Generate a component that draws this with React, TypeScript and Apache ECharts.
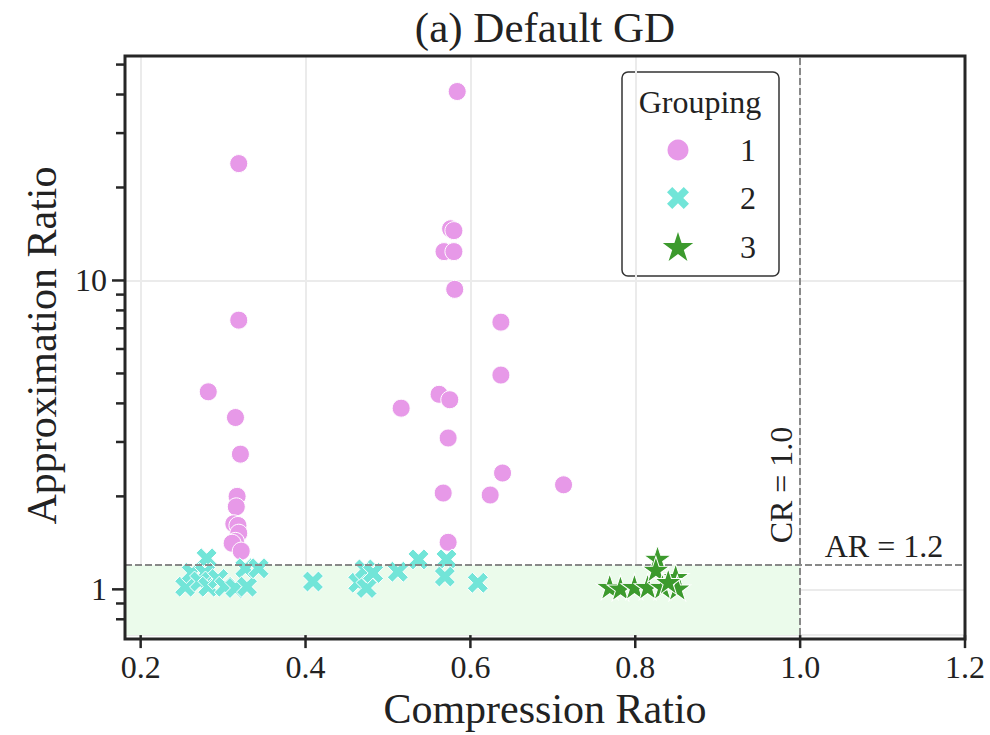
import { useEffect, useRef } from 'react';
import * as echarts from 'echarts';

// Grouping 1 (circles)
const g1X = [0.584, 0.319, 0.576, 0.58, 0.568, 0.58, 0.581, 0.319, 0.637, 0.637, 0.282, 0.562, 0.575, 0.516, 0.315, 0.573, 0.321, 0.639, 0.713, 0.567, 0.624, 0.317, 0.316, 0.313, 0.318, 0.319, 0.315, 0.311, 0.573, 0.322];
const g1Y = [40.9, 23.9, 14.7, 14.5, 12.4, 12.4, 9.36, 7.44, 7.33, 4.94, 4.36, 4.28, 4.11, 3.86, 3.6, 3.09, 2.74, 2.38, 2.18, 2.05, 2.02, 2.0, 1.85, 1.63, 1.61, 1.52, 1.43, 1.41, 1.42, 1.33];

// Grouping 2 (crosses)
const g2X = [0.254, 0.262, 0.28, 0.278, 0.272, 0.282, 0.294, 0.302, 0.315, 0.327, 0.329, 0.343, 0.409, 0.464, 0.474, 0.472, 0.482, 0.512, 0.537, 0.571, 0.569, 0.609];
const g2Y = [1.02, 1.13, 1.26, 1.13, 1.06, 1.02, 1.08, 1.02, 1.01, 1.17, 1.02, 1.17, 1.06, 1.05, 1.01, 1.16, 1.13, 1.14, 1.25, 1.25, 1.1, 1.05];

// Grouping 3 (stars)
const g3X = [0.827, 0.769, 0.782, 0.799, 0.815, 0.825, 0.833, 0.849, 0.851, 0.84];
const g3Y = [1.26, 1.02, 1.01, 1.02, 1.02, 1.16, 1.02, 1.1, 1.01, 1.06];

const groupNames = ['1', '2', '3'];

// Axis ticks
const xTickValues = [0.2, 0.4, 0.6, 0.8, 1.0, 1.2];
const yMajorValues = [1, 10];
const yMinorValues = [0.8, 0.9, 2, 3, 4, 5, 6, 7, 8, 9, 20, 30, 40, 50];

// Thresholds
const crThreshold = 1.0;
const arThreshold = 1.2;

const X_MIN = 0.181;
const X_MAX = 1.2;
const Y_MIN = 0.711;
const Y_MAX = 53.3;

const GRID_LEFT = 125;
const GRID_RIGHT = 25;
const GRID_TOP = 56;
const GRID_BOTTOM = 96;
const WIDTH = 990;
const HEIGHT = 735;

const FONT = '"Liberation Serif", "DejaVu Serif", serif';
const TEXT = '#222222';
const FRAME = '#262626';
const PINK = '#e799e8';
const TURQ = '#72e5d8';
const GREEN = '#3c9a2d';
const BAND = '#ebfbeb';
const GRID_LINE = '#ebebeb';

// Filled "X" marker outline in a 10x10 box
const CROSS_PTS: number[][] = [
  [0, 2.4], [2.4, 0], [5, 2.6], [7.6, 0], [10, 2.4], [7.4, 5],
  [10, 7.6], [7.6, 10], [5, 7.4], [2.4, 10], [0, 7.6], [2.6, 5],
];
const CROSS_PATH = 'path://M' + CROSS_PTS.map((p) => p.join(',')).join(' L') + ' Z';

function starPoints(cx: number, cy: number, r: number): number[][] {
  const pts: number[][] = [];
  for (let i = 0; i < 10; i++) {
    const ang = -Math.PI / 2 + (i * Math.PI) / 5;
    const rr = i % 2 === 0 ? r : r * 0.381;
    pts.push([cx + rr * Math.cos(ang), cy + rr * Math.sin(ang)]);
  }
  return pts;
}
const STAR_PATH =
  'path://M' + starPoints(0, 0, 10).map((p) => p[0].toFixed(3) + ',' + p[1].toFixed(3)).join(' L') + ' Z';

function crossPoints(cx: number, cy: number, size: number): number[][] {
  return CROSS_PTS.map((p) => [cx + ((p[0] - 5) * size) / 10, cy + ((p[1] - 5) * size) / 10]);
}

export default function App() {
  const ref = useRef<HTMLDivElement>(null);

  useEffect(() => {
    if (!ref.current) return;
    const chart = echarts.init(ref.current, null, { renderer: 'svg' });

    const tickData = [
      ...xTickValues.map((v) => [v, Y_MIN, 0]),
      ...yMajorValues.map((v) => [X_MIN, v, 1]),
      ...yMinorValues.map((v) => [X_MIN, v, 2]),
    ];

    const legendX = 678;
    const legendLabelX = 748;
    const legendRows = [150, 198, 247];

    chart.setOption({
      animation: false,
      backgroundColor: '#ffffff',
      title: {
        text: '(a) Default GD',
        left: 545,
        top: 6,
        padding: 0,
        textAlign: 'center',
        textStyle: { fontFamily: FONT, fontSize: 43, fontWeight: 'normal', color: TEXT },
      },
      grid: {
        left: GRID_LEFT,
        right: GRID_RIGHT,
        top: GRID_TOP,
        bottom: GRID_BOTTOM,
        show: false,
      },
      xAxis: {
        type: 'value',
        min: X_MIN,
        max: X_MAX,
        name: 'Compression Ratio',
        nameLocation: 'middle',
        nameGap: 52,
        nameTextStyle: { fontFamily: FONT, fontSize: 42, color: TEXT },
        axisLine: { show: false },
        axisTick: { show: false },
        axisLabel: {
          margin: 16,
          fontFamily: FONT,
          fontSize: 32,
          color: TEXT,
          formatter: (v: number) => (Math.abs(v * 5 - Math.round(v * 5)) < 1e-6 ? v.toFixed(1) : ''),
        },
        splitLine: { show: true, lineStyle: { color: GRID_LINE, width: 2 } },
      },
      yAxis: {
        type: 'log',
        logBase: 10,
        min: Y_MIN,
        max: Y_MAX,
        name: 'Approximation Ratio',
        nameLocation: 'middle',
        nameGap: 62,
        nameTextStyle: { fontFamily: FONT, fontSize: 42, color: TEXT },
        axisLine: { show: false },
        axisTick: { show: false },
        axisLabel: {
          margin: 18,
          fontFamily: FONT,
          fontSize: 32,
          color: TEXT,
          formatter: (v: number) => (Math.abs(v - 1) < 1e-9 ? '1' : Math.abs(v - 10) < 1e-9 ? '10' : ''),
        },
        splitLine: { show: true, lineStyle: { color: GRID_LINE, width: 2 } },
        minorTick: { show: false },
      },
      series: [
        {
          type: 'scatter',
          name: 'thresholds',
          data: [],
          z: 1,
          silent: true,
          markArea: {
            silent: true,
            itemStyle: { color: BAND },
            data: [[{ coord: [X_MIN, Y_MIN] }, { coord: [crThreshold, arThreshold] }]],
          },
          markLine: {
            silent: true,
            symbol: 'none',
            label: { show: false },
            lineStyle: { color: '#888888', type: [7, 3], width: 2 },
            data: [{ xAxis: crThreshold }, { yAxis: arThreshold }],
          },
        },
        {
          type: 'scatter',
          name: groupNames[0],
          z: 3,
          symbol: 'circle',
          symbolSize: 18,
          itemStyle: { color: PINK, borderColor: '#ffffff', borderWidth: 1, opacity: 1 },
          data: g1X.map((x, i) => [x, g1Y[i]]),
        },
        {
          type: 'scatter',
          name: groupNames[1],
          z: 4,
          symbol: CROSS_PATH,
          symbolSize: 21,
          itemStyle: { color: TURQ, borderColor: '#ffffff', borderWidth: 1, opacity: 1 },
          data: g2X.map((x, i) => [x, g2Y[i]]),
        },
        {
          type: 'scatter',
          name: groupNames[2],
          z: 5,
          symbol: STAR_PATH,
          symbolSize: [27, 26],
          itemStyle: { color: GREEN, borderColor: '#ffffff', borderWidth: 1, opacity: 1 },
          data: g3X.map((x, i) => [x, g3Y[i]]),
        },
        {
          type: 'custom',
          name: 'ticks',
          coordinateSystem: 'cartesian2d',
          silent: true,
          clip: false,
          z: 10,
          data: tickData,
          renderItem: (_params: any, api: any) => {
            const kind = api.value(2);
            const p = api.coord([api.value(0), api.value(1)]);
            const len = kind === 2 ? 9 : 13;
            const shape =
              kind === 0
                ? { x1: p[0], y1: p[1], x2: p[0], y2: p[1] + len }
                : { x1: p[0] - len, y1: p[1], x2: p[0], y2: p[1] };
            return { type: 'line', shape, style: { stroke: FRAME, lineWidth: 2.5 } };
          },
        },
      ],
      graphic: [
        // plot frame
        {
          type: 'rect',
          z: 15,
          silent: true,
          shape: {
            x: GRID_LEFT,
            y: GRID_TOP,
            width: WIDTH - GRID_LEFT - GRID_RIGHT,
            height: HEIGHT - GRID_TOP - GRID_BOTTOM,
          },
          style: { fill: 'none', stroke: FRAME, lineWidth: 3 },
        },
        {
          type: 'text',
          x: 781,
          y: 485,
          rotation: Math.PI / 2,
          z: 20,
          style: {
            text: 'CR = 1.0',
            fontFamily: FONT,
            fontSize: 32,
            fill: TEXT,
            textAlign: 'center',
            textVerticalAlign: 'middle',
          },
        },
        {
          type: 'text',
          x: 884,
          y: 546,
          z: 20,
          style: {
            text: 'AR = 1.2',
            fontFamily: FONT,
            fontSize: 32,
            fill: TEXT,
            textAlign: 'center',
            textVerticalAlign: 'middle',
          },
        },
        {
          type: 'group',
          z: 30,
          children: [
            {
              type: 'rect',
              shape: { x: 622, y: 72, width: 157, height: 204, r: 6 },
              style: { fill: '#ffffff', stroke: '#333333', lineWidth: 1.5 },
            },
            {
              type: 'text',
              x: 700,
              y: 102,
              style: {
                text: 'Grouping',
                fontFamily: FONT,
                fontSize: 32,
                fill: TEXT,
                textAlign: 'center',
                textVerticalAlign: 'middle',
              },
            },
            {
              type: 'circle',
              shape: { cx: legendX, cy: legendRows[0], r: 10.5 },
              style: { fill: PINK },
            },
            {
              type: 'polygon',
              shape: { points: crossPoints(legendX, legendRows[1], 22) },
              style: { fill: TURQ },
            },
            {
              type: 'polygon',
              shape: { points: starPoints(legendX, legendRows[2] + 1, 16) },
              style: { fill: GREEN },
            },
            ...groupNames.map((g, i) => ({
              type: 'text',
              x: legendLabelX,
              y: legendRows[i],
              style: {
                text: g,
                fontFamily: FONT,
                fontSize: 32,
                fill: TEXT,
                textAlign: 'center',
                textVerticalAlign: 'middle',
              },
            })),
          ],
        },
      ],
    });

    return () => chart.dispose();
  }, []);

  return (
    <div
      ref={ref}
      style={{ position: 'fixed', left: 0, top: 0, width: WIDTH, height: HEIGHT, background: '#ffffff' }}
    />
  );
}
